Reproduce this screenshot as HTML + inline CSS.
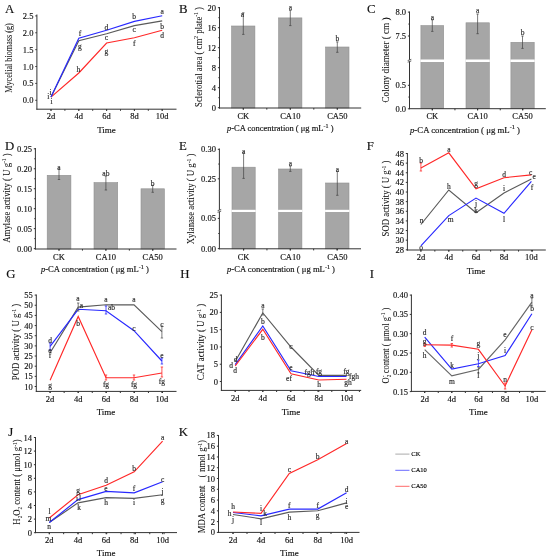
<!DOCTYPE html>
<html><head><meta charset="utf-8"><style>
html,body{margin:0;padding:0;background:#fff;}
svg{display:block;will-change:transform;}
</style></head><body>
<svg width="550" height="559" viewBox="0 0 550 559" font-family="Liberation Serif, serif">

<rect width="550" height="559" fill="#fff"/>
<text x="4.90" y="12.70" font-size="12.8" text-anchor="start" fill="#111" stroke="#111" stroke-width="0.15" >A</text>
<line x1="36.90" y1="14.50" x2="36.90" y2="109.70" stroke="#333" stroke-width="1"/>
<line x1="36.40" y1="109.20" x2="176.50" y2="109.20" stroke="#333" stroke-width="1"/>
<line x1="35.30" y1="15.90" x2="36.90" y2="15.90" stroke="#333" stroke-width="1"/>
<text x="33.40" y="18.90" font-size="8.5" text-anchor="end" fill="#111" stroke="#111" stroke-width="0.15" >2.5</text>
<line x1="35.30" y1="32.78" x2="36.90" y2="32.78" stroke="#333" stroke-width="1"/>
<text x="33.40" y="35.78" font-size="8.5" text-anchor="end" fill="#111" stroke="#111" stroke-width="0.15" >2.0</text>
<line x1="35.30" y1="49.66" x2="36.90" y2="49.66" stroke="#333" stroke-width="1"/>
<text x="33.40" y="52.66" font-size="8.5" text-anchor="end" fill="#111" stroke="#111" stroke-width="0.15" >1.5</text>
<line x1="35.30" y1="66.54" x2="36.90" y2="66.54" stroke="#333" stroke-width="1"/>
<text x="33.40" y="69.54" font-size="8.5" text-anchor="end" fill="#111" stroke="#111" stroke-width="0.15" >1.0</text>
<line x1="35.30" y1="83.42" x2="36.90" y2="83.42" stroke="#333" stroke-width="1"/>
<text x="33.40" y="86.42" font-size="8.5" text-anchor="end" fill="#111" stroke="#111" stroke-width="0.15" >0.5</text>
<line x1="35.30" y1="100.30" x2="36.90" y2="100.30" stroke="#333" stroke-width="1"/>
<text x="33.40" y="103.30" font-size="8.5" text-anchor="end" fill="#111" stroke="#111" stroke-width="0.15" >0.0</text>
<line x1="51.00" y1="109.20" x2="51.00" y2="110.80" stroke="#333" stroke-width="1"/>
<line x1="64.90" y1="109.20" x2="64.90" y2="110.80" stroke="#333" stroke-width="1"/>
<line x1="78.80" y1="109.20" x2="78.80" y2="110.80" stroke="#333" stroke-width="1"/>
<line x1="92.70" y1="109.20" x2="92.70" y2="110.80" stroke="#333" stroke-width="1"/>
<line x1="106.60" y1="109.20" x2="106.60" y2="110.80" stroke="#333" stroke-width="1"/>
<line x1="120.50" y1="109.20" x2="120.50" y2="110.80" stroke="#333" stroke-width="1"/>
<line x1="134.40" y1="109.20" x2="134.40" y2="110.80" stroke="#333" stroke-width="1"/>
<line x1="148.30" y1="109.20" x2="148.30" y2="110.80" stroke="#333" stroke-width="1"/>
<line x1="162.20" y1="109.20" x2="162.20" y2="110.80" stroke="#333" stroke-width="1"/>
<line x1="51.00" y1="109.20" x2="51.00" y2="110.80" stroke="#333" stroke-width="1"/>
<text x="51.00" y="119.20" font-size="8.5" text-anchor="middle" fill="#111" stroke="#111" stroke-width="0.15" >2d</text>
<line x1="78.80" y1="109.20" x2="78.80" y2="110.80" stroke="#333" stroke-width="1"/>
<text x="78.80" y="119.20" font-size="8.5" text-anchor="middle" fill="#111" stroke="#111" stroke-width="0.15" >4d</text>
<line x1="106.60" y1="109.20" x2="106.60" y2="110.80" stroke="#333" stroke-width="1"/>
<text x="106.60" y="119.20" font-size="8.5" text-anchor="middle" fill="#111" stroke="#111" stroke-width="0.15" >6d</text>
<line x1="134.40" y1="109.20" x2="134.40" y2="110.80" stroke="#333" stroke-width="1"/>
<text x="134.40" y="119.20" font-size="8.5" text-anchor="middle" fill="#111" stroke="#111" stroke-width="0.15" >8d</text>
<line x1="162.20" y1="109.20" x2="162.20" y2="110.80" stroke="#333" stroke-width="1"/>
<text x="162.20" y="119.20" font-size="8.5" text-anchor="middle" fill="#111" stroke="#111" stroke-width="0.15" >10d</text>
<text x="106.50" y="132.80" font-size="9" text-anchor="middle" fill="#111" stroke="#111" stroke-width="0.15" >Time</text>
<text transform="translate(8.70,58.00) rotate(-90)" x="0" y="3.14" font-size="9.5" text-anchor="middle" fill="#111" stroke="#111" stroke-width="0.05" textLength="69.5" lengthAdjust="spacingAndGlyphs">Mycelial biomass (g)</text>
<polyline points="51.00,97.10 78.80,73.00 106.60,43.00 134.40,37.70 162.20,30.20" fill="none" stroke="#ff2828" stroke-width="1.15" stroke-linejoin="miter"/>
<polyline points="51.00,97.10 78.80,40.80 106.60,33.70 134.40,25.60 162.20,20.90" fill="none" stroke="#5a5a5a" stroke-width="1.15" stroke-linejoin="miter"/>
<polyline points="51.00,97.10 78.80,38.20 106.60,30.20 134.40,21.40 162.20,15.80" fill="none" stroke="#2828ff" stroke-width="1.15" stroke-linejoin="miter"/>
<text x="79.90" y="36.40" font-size="7.5" text-anchor="middle" fill="#2a2a2a" stroke="#2a2a2a" stroke-width="0.15" >f</text>
<text x="79.90" y="48.70" font-size="7.5" text-anchor="middle" fill="#2a2a2a" stroke="#2a2a2a" stroke-width="0.15" >g</text>
<text x="78.40" y="72.30" font-size="7.5" text-anchor="middle" fill="#2a2a2a" stroke="#2a2a2a" stroke-width="0.15" >h</text>
<text x="106.30" y="30.00" font-size="7.5" text-anchor="middle" fill="#2a2a2a" stroke="#2a2a2a" stroke-width="0.15" >d</text>
<text x="106.30" y="39.70" font-size="7.5" text-anchor="middle" fill="#2a2a2a" stroke="#2a2a2a" stroke-width="0.15" >c</text>
<text x="106.30" y="54.10" font-size="7.5" text-anchor="middle" fill="#2a2a2a" stroke="#2a2a2a" stroke-width="0.15" >g</text>
<text x="134.20" y="19.20" font-size="7.5" text-anchor="middle" fill="#2a2a2a" stroke="#2a2a2a" stroke-width="0.15" >b</text>
<text x="134.20" y="32.30" font-size="7.5" text-anchor="middle" fill="#2a2a2a" stroke="#2a2a2a" stroke-width="0.15" >c</text>
<text x="134.20" y="45.50" font-size="7.5" text-anchor="middle" fill="#2a2a2a" stroke="#2a2a2a" stroke-width="0.15" >f</text>
<text x="162.10" y="14.10" font-size="7.5" text-anchor="middle" fill="#2a2a2a" stroke="#2a2a2a" stroke-width="0.15" >a</text>
<text x="162.10" y="28.50" font-size="7.5" text-anchor="middle" fill="#2a2a2a" stroke="#2a2a2a" stroke-width="0.15" >b</text>
<text x="162.10" y="37.80" font-size="7.5" text-anchor="middle" fill="#2a2a2a" stroke="#2a2a2a" stroke-width="0.15" >d</text>
<text x="48.30" y="99.20" font-size="7.5" text-anchor="middle" fill="#2a2a2a" stroke="#2a2a2a" stroke-width="0.15" >i</text>
<text x="50.50" y="95.30" font-size="7.5" text-anchor="middle" fill="#2a2a2a" stroke="#2a2a2a" stroke-width="0.15" >i</text>
<text x="51.60" y="103.50" font-size="7.5" text-anchor="middle" fill="#2a2a2a" stroke="#2a2a2a" stroke-width="0.15" >i</text>
<text x="178.90" y="12.70" font-size="12.8" text-anchor="start" fill="#111" stroke="#111" stroke-width="0.15" >B</text>
<rect x="231.60" y="26.00" width="23.30" height="82.00" fill="#a6a6a6" stroke="#909090" stroke-width="0.6"/>
<rect x="278.60" y="17.90" width="23.30" height="90.10" fill="#a6a6a6" stroke="#909090" stroke-width="0.6"/>
<rect x="325.60" y="47.00" width="23.40" height="61.00" fill="#a6a6a6" stroke="#909090" stroke-width="0.6"/>
<line x1="219.50" y1="7.00" x2="219.50" y2="108.50" stroke="#333" stroke-width="1"/>
<line x1="219.00" y1="108.00" x2="361.20" y2="108.00" stroke="#333" stroke-width="1"/>
<line x1="217.90" y1="7.70" x2="219.50" y2="7.70" stroke="#333" stroke-width="1"/>
<text x="216.00" y="10.70" font-size="8.5" text-anchor="end" fill="#111" stroke="#111" stroke-width="0.15" >20</text>
<line x1="217.90" y1="27.70" x2="219.50" y2="27.70" stroke="#333" stroke-width="1"/>
<text x="216.00" y="30.70" font-size="8.5" text-anchor="end" fill="#111" stroke="#111" stroke-width="0.15" >16</text>
<line x1="217.90" y1="47.70" x2="219.50" y2="47.70" stroke="#333" stroke-width="1"/>
<text x="216.00" y="50.70" font-size="8.5" text-anchor="end" fill="#111" stroke="#111" stroke-width="0.15" >12</text>
<line x1="217.90" y1="67.70" x2="219.50" y2="67.70" stroke="#333" stroke-width="1"/>
<text x="216.00" y="70.70" font-size="8.5" text-anchor="end" fill="#111" stroke="#111" stroke-width="0.15" >8</text>
<line x1="217.90" y1="87.70" x2="219.50" y2="87.70" stroke="#333" stroke-width="1"/>
<text x="216.00" y="90.70" font-size="8.5" text-anchor="end" fill="#111" stroke="#111" stroke-width="0.15" >4</text>
<line x1="217.90" y1="107.70" x2="219.50" y2="107.70" stroke="#333" stroke-width="1"/>
<text x="216.00" y="110.70" font-size="8.5" text-anchor="end" fill="#111" stroke="#111" stroke-width="0.15" >0</text>
<line x1="243.30" y1="108.00" x2="243.30" y2="109.60" stroke="#333" stroke-width="1"/>
<line x1="266.80" y1="108.00" x2="266.80" y2="109.60" stroke="#333" stroke-width="1"/>
<line x1="290.30" y1="108.00" x2="290.30" y2="109.60" stroke="#333" stroke-width="1"/>
<line x1="313.80" y1="108.00" x2="313.80" y2="109.60" stroke="#333" stroke-width="1"/>
<line x1="337.30" y1="108.00" x2="337.30" y2="109.60" stroke="#333" stroke-width="1"/>
<line x1="243.30" y1="108.00" x2="243.30" y2="109.60" stroke="#333" stroke-width="1"/>
<text x="243.30" y="118.50" font-size="8.5" text-anchor="middle" fill="#111" stroke="#111" stroke-width="0.15" >CK</text>
<line x1="290.30" y1="108.00" x2="290.30" y2="109.60" stroke="#333" stroke-width="1"/>
<text x="290.30" y="118.50" font-size="8.5" text-anchor="middle" fill="#111" stroke="#111" stroke-width="0.15" >CA10</text>
<line x1="337.30" y1="108.00" x2="337.30" y2="109.60" stroke="#333" stroke-width="1"/>
<text x="337.30" y="118.50" font-size="8.5" text-anchor="middle" fill="#111" stroke="#111" stroke-width="0.15" >CA50</text>
<line x1="218.30" y1="17.70" x2="219.50" y2="17.70" stroke="#333" stroke-width="0.9"/>
<line x1="218.30" y1="37.70" x2="219.50" y2="37.70" stroke="#333" stroke-width="0.9"/>
<line x1="218.30" y1="57.70" x2="219.50" y2="57.70" stroke="#333" stroke-width="0.9"/>
<line x1="218.30" y1="77.70" x2="219.50" y2="77.70" stroke="#333" stroke-width="0.9"/>
<line x1="218.30" y1="97.70" x2="219.50" y2="97.70" stroke="#333" stroke-width="0.9"/>
<line x1="243.30" y1="12.80" x2="243.30" y2="34.40" stroke="#444" stroke-width="0.7"/>
<line x1="242.10" y1="12.80" x2="244.50" y2="12.80" stroke="#444" stroke-width="0.7"/>
<line x1="242.10" y1="34.40" x2="244.50" y2="34.40" stroke="#444" stroke-width="0.7"/>
<line x1="290.30" y1="10.50" x2="290.30" y2="25.60" stroke="#444" stroke-width="0.7"/>
<line x1="289.10" y1="10.50" x2="291.50" y2="10.50" stroke="#444" stroke-width="0.7"/>
<line x1="289.10" y1="25.60" x2="291.50" y2="25.60" stroke="#444" stroke-width="0.7"/>
<line x1="337.30" y1="41.90" x2="337.30" y2="52.30" stroke="#444" stroke-width="0.7"/>
<line x1="336.10" y1="41.90" x2="338.50" y2="41.90" stroke="#444" stroke-width="0.7"/>
<line x1="336.10" y1="52.30" x2="338.50" y2="52.30" stroke="#444" stroke-width="0.7"/>
<text x="242.30" y="16.90" font-size="7.5" text-anchor="middle" fill="#2a2a2a" stroke="#2a2a2a" stroke-width="0.15" >a</text>
<text x="290.30" y="9.90" font-size="7.5" text-anchor="middle" fill="#2a2a2a" stroke="#2a2a2a" stroke-width="0.15" >a</text>
<text x="337.30" y="40.90" font-size="7.5" text-anchor="middle" fill="#2a2a2a" stroke="#2a2a2a" stroke-width="0.15" >b</text>
<text x="227.00" y="131.20" font-size="8.5" text-anchor="start" fill="#111" stroke="#111" stroke-width="0.15" textLength="106.5" lengthAdjust="spacingAndGlyphs" ><tspan font-style="italic">p</tspan>-CA concentration ( μg mL<tspan dy="-3.5" font-size="6">-1</tspan><tspan dy="3.5"> )</tspan></text>
<text transform="translate(198.50,57.00) rotate(-90)" x="0" y="3.14" font-size="9.5" text-anchor="middle" fill="#111" stroke="#111" stroke-width="0.05" textLength="100" lengthAdjust="spacingAndGlyphs">Sclerotial area ( cm<tspan dy="-3.5" font-size="6">2</tspan><tspan dy="3.5"> plate</tspan><tspan dy="-3.5" font-size="6">-1</tspan><tspan dy="3.5"> )</tspan></text>
<text x="367.10" y="12.70" font-size="12.8" text-anchor="start" fill="#111" stroke="#111" stroke-width="0.15" >C</text>
<rect x="420.90" y="25.60" width="22.80" height="83.10" fill="#a6a6a6" stroke="#909090" stroke-width="0.6"/>
<rect x="420.40" y="59.50" width="23.80" height="2.50" fill="#fff"/>
<rect x="466.00" y="22.80" width="23.30" height="85.90" fill="#a6a6a6" stroke="#909090" stroke-width="0.6"/>
<rect x="465.50" y="59.50" width="24.30" height="2.50" fill="#fff"/>
<rect x="510.90" y="42.30" width="23.30" height="66.40" fill="#a6a6a6" stroke="#909090" stroke-width="0.6"/>
<rect x="510.40" y="59.50" width="24.30" height="2.50" fill="#fff"/>
<line x1="409.50" y1="11.50" x2="409.50" y2="109.20" stroke="#333" stroke-width="1"/>
<line x1="409.00" y1="108.70" x2="545.80" y2="108.70" stroke="#333" stroke-width="1"/>
<line x1="407.90" y1="12.10" x2="409.50" y2="12.10" stroke="#333" stroke-width="1"/>
<text x="406.00" y="15.10" font-size="8.5" text-anchor="end" fill="#111" stroke="#111" stroke-width="0.15" >8.0</text>
<line x1="407.90" y1="36.00" x2="409.50" y2="36.00" stroke="#333" stroke-width="1"/>
<text x="406.00" y="39.00" font-size="8.5" text-anchor="end" fill="#111" stroke="#111" stroke-width="0.15" >7.5</text>
<line x1="407.90" y1="85.30" x2="409.50" y2="85.30" stroke="#333" stroke-width="1"/>
<text x="406.00" y="88.30" font-size="8.5" text-anchor="end" fill="#111" stroke="#111" stroke-width="0.15" >0.5</text>
<line x1="407.90" y1="108.80" x2="409.50" y2="108.80" stroke="#333" stroke-width="1"/>
<text x="406.00" y="111.80" font-size="8.5" text-anchor="end" fill="#111" stroke="#111" stroke-width="0.15" >0.0</text>
<line x1="432.30" y1="108.70" x2="432.30" y2="110.30" stroke="#333" stroke-width="1"/>
<line x1="454.95" y1="108.70" x2="454.95" y2="110.30" stroke="#333" stroke-width="1"/>
<line x1="477.60" y1="108.70" x2="477.60" y2="110.30" stroke="#333" stroke-width="1"/>
<line x1="500.25" y1="108.70" x2="500.25" y2="110.30" stroke="#333" stroke-width="1"/>
<line x1="522.90" y1="108.70" x2="522.90" y2="110.30" stroke="#333" stroke-width="1"/>
<line x1="432.30" y1="108.70" x2="432.30" y2="110.30" stroke="#333" stroke-width="1"/>
<text x="432.30" y="119.00" font-size="8.5" text-anchor="middle" fill="#111" stroke="#111" stroke-width="0.15" >CK</text>
<line x1="477.60" y1="108.70" x2="477.60" y2="110.30" stroke="#333" stroke-width="1"/>
<text x="477.60" y="119.00" font-size="8.5" text-anchor="middle" fill="#111" stroke="#111" stroke-width="0.15" >CA10</text>
<line x1="522.50" y1="108.70" x2="522.50" y2="110.30" stroke="#333" stroke-width="1"/>
<text x="522.50" y="119.00" font-size="8.5" text-anchor="middle" fill="#111" stroke="#111" stroke-width="0.15" >CA50</text>
<line x1="408.30" y1="24.05" x2="409.50" y2="24.05" stroke="#333" stroke-width="0.9"/>
<line x1="408.30" y1="97.05" x2="409.50" y2="97.05" stroke="#333" stroke-width="0.9"/>
<line x1="432.30" y1="19.80" x2="432.30" y2="31.40" stroke="#444" stroke-width="0.7"/>
<line x1="431.10" y1="19.80" x2="433.50" y2="19.80" stroke="#444" stroke-width="0.7"/>
<line x1="431.10" y1="31.40" x2="433.50" y2="31.40" stroke="#444" stroke-width="0.7"/>
<line x1="477.60" y1="14.00" x2="477.60" y2="33.70" stroke="#444" stroke-width="0.7"/>
<line x1="476.40" y1="14.00" x2="478.80" y2="14.00" stroke="#444" stroke-width="0.7"/>
<line x1="476.40" y1="33.70" x2="478.80" y2="33.70" stroke="#444" stroke-width="0.7"/>
<line x1="522.50" y1="36.00" x2="522.50" y2="48.40" stroke="#444" stroke-width="0.7"/>
<line x1="521.30" y1="36.00" x2="523.70" y2="36.00" stroke="#444" stroke-width="0.7"/>
<line x1="521.30" y1="48.40" x2="523.70" y2="48.40" stroke="#444" stroke-width="0.7"/>
<text x="432.30" y="19.90" font-size="7.5" text-anchor="middle" fill="#2a2a2a" stroke="#2a2a2a" stroke-width="0.15" >a</text>
<text x="477.60" y="13.00" font-size="7.5" text-anchor="middle" fill="#2a2a2a" stroke="#2a2a2a" stroke-width="0.15" >a</text>
<text x="522.50" y="35.10" font-size="7.5" text-anchor="middle" fill="#2a2a2a" stroke="#2a2a2a" stroke-width="0.15" >b</text>
<rect x="407.50" y="59.75" width="4" height="2" fill="#fff"/>
<line x1="407.70" y1="60.55" x2="411.30" y2="59.35" stroke="#333" stroke-width="0.8"/>
<line x1="407.70" y1="62.15" x2="411.30" y2="60.95" stroke="#333" stroke-width="0.8"/>
<text x="410.00" y="132.50" font-size="8.5" text-anchor="start" fill="#111" stroke="#111" stroke-width="0.15" textLength="110" lengthAdjust="spacingAndGlyphs" ><tspan font-style="italic">p</tspan>-CA concentration ( μg mL<tspan dy="-3.5" font-size="6">-1</tspan><tspan dy="3.5"> )</tspan></text>
<text transform="translate(385.50,60.00) rotate(-90)" x="0" y="3.14" font-size="9.5" text-anchor="middle" fill="#111" stroke="#111" stroke-width="0.05" textLength="85" lengthAdjust="spacingAndGlyphs">Colony diameter ( cm   )</text>
<text x="5.10" y="149.80" font-size="12.8" text-anchor="start" fill="#111" stroke="#111" stroke-width="0.15" >D</text>
<rect x="47.20" y="175.30" width="23.70" height="73.70" fill="#a6a6a6" stroke="#909090" stroke-width="0.6"/>
<rect x="94.00" y="182.60" width="23.70" height="66.40" fill="#a6a6a6" stroke="#909090" stroke-width="0.6"/>
<rect x="141.00" y="188.80" width="23.40" height="60.20" fill="#a6a6a6" stroke="#909090" stroke-width="0.6"/>
<line x1="35.40" y1="148.00" x2="35.40" y2="249.50" stroke="#333" stroke-width="1"/>
<line x1="34.90" y1="249.00" x2="176.50" y2="249.00" stroke="#333" stroke-width="1"/>
<line x1="33.80" y1="148.80" x2="35.40" y2="148.80" stroke="#333" stroke-width="1"/>
<text x="31.90" y="151.80" font-size="8.5" text-anchor="end" fill="#111" stroke="#111" stroke-width="0.15" >0.25</text>
<line x1="33.80" y1="168.76" x2="35.40" y2="168.76" stroke="#333" stroke-width="1"/>
<text x="31.90" y="171.76" font-size="8.5" text-anchor="end" fill="#111" stroke="#111" stroke-width="0.15" >0.20</text>
<line x1="33.80" y1="188.72" x2="35.40" y2="188.72" stroke="#333" stroke-width="1"/>
<text x="31.90" y="191.72" font-size="8.5" text-anchor="end" fill="#111" stroke="#111" stroke-width="0.15" >0.15</text>
<line x1="33.80" y1="208.68" x2="35.40" y2="208.68" stroke="#333" stroke-width="1"/>
<text x="31.90" y="211.68" font-size="8.5" text-anchor="end" fill="#111" stroke="#111" stroke-width="0.15" >0.10</text>
<line x1="33.80" y1="228.64" x2="35.40" y2="228.64" stroke="#333" stroke-width="1"/>
<text x="31.90" y="231.64" font-size="8.5" text-anchor="end" fill="#111" stroke="#111" stroke-width="0.15" >0.05</text>
<line x1="33.80" y1="248.60" x2="35.40" y2="248.60" stroke="#333" stroke-width="1"/>
<text x="31.90" y="251.60" font-size="8.5" text-anchor="end" fill="#111" stroke="#111" stroke-width="0.15" >0.00</text>
<line x1="59.00" y1="249.00" x2="59.00" y2="250.60" stroke="#333" stroke-width="1"/>
<line x1="82.45" y1="249.00" x2="82.45" y2="250.60" stroke="#333" stroke-width="1"/>
<line x1="105.90" y1="249.00" x2="105.90" y2="250.60" stroke="#333" stroke-width="1"/>
<line x1="129.35" y1="249.00" x2="129.35" y2="250.60" stroke="#333" stroke-width="1"/>
<line x1="152.80" y1="249.00" x2="152.80" y2="250.60" stroke="#333" stroke-width="1"/>
<line x1="59.00" y1="249.00" x2="59.00" y2="250.60" stroke="#333" stroke-width="1"/>
<text x="59.00" y="259.50" font-size="8.5" text-anchor="middle" fill="#111" stroke="#111" stroke-width="0.15" >CK</text>
<line x1="105.90" y1="249.00" x2="105.90" y2="250.60" stroke="#333" stroke-width="1"/>
<text x="105.90" y="259.50" font-size="8.5" text-anchor="middle" fill="#111" stroke="#111" stroke-width="0.15" >CA10</text>
<line x1="152.70" y1="249.00" x2="152.70" y2="250.60" stroke="#333" stroke-width="1"/>
<text x="152.70" y="259.50" font-size="8.5" text-anchor="middle" fill="#111" stroke="#111" stroke-width="0.15" >CA50</text>
<line x1="34.20" y1="158.78" x2="35.40" y2="158.78" stroke="#333" stroke-width="0.9"/>
<line x1="34.20" y1="178.74" x2="35.40" y2="178.74" stroke="#333" stroke-width="0.9"/>
<line x1="34.20" y1="198.70" x2="35.40" y2="198.70" stroke="#333" stroke-width="0.9"/>
<line x1="34.20" y1="218.66" x2="35.40" y2="218.66" stroke="#333" stroke-width="0.9"/>
<line x1="34.20" y1="238.62" x2="35.40" y2="238.62" stroke="#333" stroke-width="0.9"/>
<line x1="59.00" y1="169.00" x2="59.00" y2="179.50" stroke="#444" stroke-width="0.7"/>
<line x1="57.80" y1="169.00" x2="60.20" y2="169.00" stroke="#444" stroke-width="0.7"/>
<line x1="57.80" y1="179.50" x2="60.20" y2="179.50" stroke="#444" stroke-width="0.7"/>
<line x1="105.90" y1="176.00" x2="105.90" y2="190.00" stroke="#444" stroke-width="0.7"/>
<line x1="104.70" y1="176.00" x2="107.10" y2="176.00" stroke="#444" stroke-width="0.7"/>
<line x1="104.70" y1="190.00" x2="107.10" y2="190.00" stroke="#444" stroke-width="0.7"/>
<line x1="152.70" y1="185.30" x2="152.70" y2="192.30" stroke="#444" stroke-width="0.7"/>
<line x1="151.50" y1="185.30" x2="153.90" y2="185.30" stroke="#444" stroke-width="0.7"/>
<line x1="151.50" y1="192.30" x2="153.90" y2="192.30" stroke="#444" stroke-width="0.7"/>
<text x="58.80" y="170.40" font-size="7.5" text-anchor="middle" fill="#2a2a2a" stroke="#2a2a2a" stroke-width="0.15" >a</text>
<text x="105.90" y="175.80" font-size="7.5" text-anchor="middle" fill="#2a2a2a" stroke="#2a2a2a" stroke-width="0.15" >ab</text>
<text x="152.70" y="185.50" font-size="7.5" text-anchor="middle" fill="#2a2a2a" stroke="#2a2a2a" stroke-width="0.15" >b</text>
<text x="40.90" y="272.00" font-size="8.5" text-anchor="start" fill="#111" stroke="#111" stroke-width="0.15" textLength="108" lengthAdjust="spacingAndGlyphs" ><tspan font-style="italic">p</tspan>-CA concentration ( μg mL<tspan dy="-3.5" font-size="6">-1</tspan><tspan dy="3.5"> )</tspan></text>
<text transform="translate(6.60,198.00) rotate(-90)" x="0" y="3.14" font-size="9.5" text-anchor="middle" fill="#111" stroke="#111" stroke-width="0.05" textLength="89.5" lengthAdjust="spacingAndGlyphs">Amylase activity ( U g<tspan dy="-3.5" font-size="6">-1</tspan><tspan dy="3.5"> )</tspan></text>
<text x="178.90" y="149.80" font-size="12.8" text-anchor="start" fill="#111" stroke="#111" stroke-width="0.15" >E</text>
<rect x="232.00" y="167.20" width="23.20" height="81.60" fill="#a6a6a6" stroke="#909090" stroke-width="0.6"/>
<rect x="231.50" y="209.80" width="24.20" height="2.20" fill="#fff"/>
<rect x="278.60" y="169.00" width="23.30" height="79.80" fill="#a6a6a6" stroke="#909090" stroke-width="0.6"/>
<rect x="278.10" y="209.80" width="24.30" height="2.20" fill="#fff"/>
<rect x="325.60" y="183.00" width="23.40" height="65.80" fill="#a6a6a6" stroke="#909090" stroke-width="0.6"/>
<rect x="325.10" y="209.80" width="24.40" height="2.20" fill="#fff"/>
<line x1="219.40" y1="148.50" x2="219.40" y2="249.30" stroke="#333" stroke-width="1"/>
<line x1="218.90" y1="248.80" x2="361.00" y2="248.80" stroke="#333" stroke-width="1"/>
<line x1="217.80" y1="149.30" x2="219.40" y2="149.30" stroke="#333" stroke-width="1"/>
<text x="215.90" y="152.30" font-size="8.5" text-anchor="end" fill="#111" stroke="#111" stroke-width="0.15" >0.30</text>
<line x1="217.80" y1="178.80" x2="219.40" y2="178.80" stroke="#333" stroke-width="1"/>
<text x="215.90" y="181.80" font-size="8.5" text-anchor="end" fill="#111" stroke="#111" stroke-width="0.15" >0.25</text>
<line x1="217.80" y1="218.40" x2="219.40" y2="218.40" stroke="#333" stroke-width="1"/>
<text x="215.90" y="221.40" font-size="8.5" text-anchor="end" fill="#111" stroke="#111" stroke-width="0.15" >0.05</text>
<line x1="217.80" y1="248.60" x2="219.40" y2="248.60" stroke="#333" stroke-width="1"/>
<text x="215.90" y="251.60" font-size="8.5" text-anchor="end" fill="#111" stroke="#111" stroke-width="0.15" >0.00</text>
<line x1="243.60" y1="248.80" x2="243.60" y2="250.40" stroke="#333" stroke-width="1"/>
<line x1="266.95" y1="248.80" x2="266.95" y2="250.40" stroke="#333" stroke-width="1"/>
<line x1="290.30" y1="248.80" x2="290.30" y2="250.40" stroke="#333" stroke-width="1"/>
<line x1="313.65" y1="248.80" x2="313.65" y2="250.40" stroke="#333" stroke-width="1"/>
<line x1="337.00" y1="248.80" x2="337.00" y2="250.40" stroke="#333" stroke-width="1"/>
<line x1="243.60" y1="248.80" x2="243.60" y2="250.40" stroke="#333" stroke-width="1"/>
<text x="243.60" y="259.50" font-size="8.5" text-anchor="middle" fill="#111" stroke="#111" stroke-width="0.15" >CK</text>
<line x1="290.30" y1="248.80" x2="290.30" y2="250.40" stroke="#333" stroke-width="1"/>
<text x="290.30" y="259.50" font-size="8.5" text-anchor="middle" fill="#111" stroke="#111" stroke-width="0.15" >CA10</text>
<line x1="337.30" y1="248.80" x2="337.30" y2="250.40" stroke="#333" stroke-width="1"/>
<text x="337.30" y="259.50" font-size="8.5" text-anchor="middle" fill="#111" stroke="#111" stroke-width="0.15" >CA50</text>
<line x1="218.20" y1="164.05" x2="219.40" y2="164.05" stroke="#333" stroke-width="0.9"/>
<line x1="218.20" y1="233.50" x2="219.40" y2="233.50" stroke="#333" stroke-width="0.9"/>
<line x1="243.60" y1="152.80" x2="243.60" y2="178.40" stroke="#444" stroke-width="0.7"/>
<line x1="242.40" y1="152.80" x2="244.80" y2="152.80" stroke="#444" stroke-width="0.7"/>
<line x1="242.40" y1="178.40" x2="244.80" y2="178.40" stroke="#444" stroke-width="0.7"/>
<line x1="290.30" y1="166.00" x2="290.30" y2="171.40" stroke="#444" stroke-width="0.7"/>
<line x1="289.10" y1="166.00" x2="291.50" y2="166.00" stroke="#444" stroke-width="0.7"/>
<line x1="289.10" y1="171.40" x2="291.50" y2="171.40" stroke="#444" stroke-width="0.7"/>
<line x1="337.30" y1="171.40" x2="337.30" y2="195.30" stroke="#444" stroke-width="0.7"/>
<line x1="336.10" y1="171.40" x2="338.50" y2="171.40" stroke="#444" stroke-width="0.7"/>
<line x1="336.10" y1="195.30" x2="338.50" y2="195.30" stroke="#444" stroke-width="0.7"/>
<text x="243.60" y="154.10" font-size="7.5" text-anchor="middle" fill="#2a2a2a" stroke="#2a2a2a" stroke-width="0.15" >a</text>
<text x="290.30" y="165.80" font-size="7.5" text-anchor="middle" fill="#2a2a2a" stroke="#2a2a2a" stroke-width="0.15" >a</text>
<text x="337.30" y="171.50" font-size="7.5" text-anchor="middle" fill="#2a2a2a" stroke="#2a2a2a" stroke-width="0.15" >a</text>
<rect x="217.40" y="209.90" width="4" height="2" fill="#fff"/>
<line x1="217.60" y1="210.70" x2="221.20" y2="209.50" stroke="#333" stroke-width="0.8"/>
<line x1="217.60" y1="212.30" x2="221.20" y2="211.10" stroke="#333" stroke-width="0.8"/>
<text x="227.00" y="272.00" font-size="8.5" text-anchor="start" fill="#111" stroke="#111" stroke-width="0.15" textLength="108" lengthAdjust="spacingAndGlyphs" ><tspan font-style="italic">p</tspan>-CA concentration ( μg mL<tspan dy="-3.5" font-size="6">-1</tspan><tspan dy="3.5"> )</tspan></text>
<text transform="translate(191.00,199.00) rotate(-90)" x="0" y="3.14" font-size="9.5" text-anchor="middle" fill="#111" stroke="#111" stroke-width="0.05" textLength="90.7" lengthAdjust="spacingAndGlyphs">Xylanase activity ( U g<tspan dy="-3.5" font-size="6">-1</tspan><tspan dy="3.5"> )</tspan></text>
<text x="366.70" y="149.80" font-size="12.8" text-anchor="start" fill="#111" stroke="#111" stroke-width="0.15" >F</text>
<line x1="407.40" y1="153.00" x2="407.40" y2="250.50" stroke="#333" stroke-width="1"/>
<line x1="406.90" y1="250.00" x2="545.80" y2="250.00" stroke="#333" stroke-width="1"/>
<line x1="405.80" y1="153.50" x2="407.40" y2="153.50" stroke="#333" stroke-width="1"/>
<text x="403.90" y="156.50" font-size="8.5" text-anchor="end" fill="#111" stroke="#111" stroke-width="0.15" >48</text>
<line x1="405.80" y1="163.13" x2="407.40" y2="163.13" stroke="#333" stroke-width="1"/>
<text x="403.90" y="166.13" font-size="8.5" text-anchor="end" fill="#111" stroke="#111" stroke-width="0.15" >46</text>
<line x1="405.80" y1="172.76" x2="407.40" y2="172.76" stroke="#333" stroke-width="1"/>
<text x="403.90" y="175.76" font-size="8.5" text-anchor="end" fill="#111" stroke="#111" stroke-width="0.15" >44</text>
<line x1="405.80" y1="182.39" x2="407.40" y2="182.39" stroke="#333" stroke-width="1"/>
<text x="403.90" y="185.39" font-size="8.5" text-anchor="end" fill="#111" stroke="#111" stroke-width="0.15" >42</text>
<line x1="405.80" y1="192.02" x2="407.40" y2="192.02" stroke="#333" stroke-width="1"/>
<text x="403.90" y="195.02" font-size="8.5" text-anchor="end" fill="#111" stroke="#111" stroke-width="0.15" >40</text>
<line x1="405.80" y1="201.65" x2="407.40" y2="201.65" stroke="#333" stroke-width="1"/>
<text x="403.90" y="204.65" font-size="8.5" text-anchor="end" fill="#111" stroke="#111" stroke-width="0.15" >38</text>
<line x1="405.80" y1="211.28" x2="407.40" y2="211.28" stroke="#333" stroke-width="1"/>
<text x="403.90" y="214.28" font-size="8.5" text-anchor="end" fill="#111" stroke="#111" stroke-width="0.15" >36</text>
<line x1="405.80" y1="220.91" x2="407.40" y2="220.91" stroke="#333" stroke-width="1"/>
<text x="403.90" y="223.91" font-size="8.5" text-anchor="end" fill="#111" stroke="#111" stroke-width="0.15" >34</text>
<line x1="405.80" y1="230.54" x2="407.40" y2="230.54" stroke="#333" stroke-width="1"/>
<text x="403.90" y="233.54" font-size="8.5" text-anchor="end" fill="#111" stroke="#111" stroke-width="0.15" >32</text>
<line x1="405.80" y1="240.17" x2="407.40" y2="240.17" stroke="#333" stroke-width="1"/>
<text x="403.90" y="243.17" font-size="8.5" text-anchor="end" fill="#111" stroke="#111" stroke-width="0.15" >30</text>
<line x1="405.80" y1="249.80" x2="407.40" y2="249.80" stroke="#333" stroke-width="1"/>
<text x="403.90" y="252.80" font-size="8.5" text-anchor="end" fill="#111" stroke="#111" stroke-width="0.15" >28</text>
<line x1="420.90" y1="250.00" x2="420.90" y2="251.60" stroke="#333" stroke-width="1"/>
<line x1="434.85" y1="250.00" x2="434.85" y2="251.60" stroke="#333" stroke-width="1"/>
<line x1="448.80" y1="250.00" x2="448.80" y2="251.60" stroke="#333" stroke-width="1"/>
<line x1="462.75" y1="250.00" x2="462.75" y2="251.60" stroke="#333" stroke-width="1"/>
<line x1="476.70" y1="250.00" x2="476.70" y2="251.60" stroke="#333" stroke-width="1"/>
<line x1="490.65" y1="250.00" x2="490.65" y2="251.60" stroke="#333" stroke-width="1"/>
<line x1="504.60" y1="250.00" x2="504.60" y2="251.60" stroke="#333" stroke-width="1"/>
<line x1="518.55" y1="250.00" x2="518.55" y2="251.60" stroke="#333" stroke-width="1"/>
<line x1="532.50" y1="250.00" x2="532.50" y2="251.60" stroke="#333" stroke-width="1"/>
<line x1="420.90" y1="250.00" x2="420.90" y2="251.60" stroke="#333" stroke-width="1"/>
<text x="420.90" y="259.90" font-size="8.5" text-anchor="middle" fill="#111" stroke="#111" stroke-width="0.15" >2d</text>
<line x1="448.80" y1="250.00" x2="448.80" y2="251.60" stroke="#333" stroke-width="1"/>
<text x="448.80" y="259.90" font-size="8.5" text-anchor="middle" fill="#111" stroke="#111" stroke-width="0.15" >4d</text>
<line x1="476.00" y1="250.00" x2="476.00" y2="251.60" stroke="#333" stroke-width="1"/>
<text x="476.00" y="259.90" font-size="8.5" text-anchor="middle" fill="#111" stroke="#111" stroke-width="0.15" >6d</text>
<line x1="504.00" y1="250.00" x2="504.00" y2="251.60" stroke="#333" stroke-width="1"/>
<text x="504.00" y="259.90" font-size="8.5" text-anchor="middle" fill="#111" stroke="#111" stroke-width="0.15" >8d</text>
<line x1="531.40" y1="250.00" x2="531.40" y2="251.60" stroke="#333" stroke-width="1"/>
<text x="531.40" y="259.90" font-size="8.5" text-anchor="middle" fill="#111" stroke="#111" stroke-width="0.15" >10d</text>
<text x="476.00" y="273.50" font-size="9" text-anchor="middle" fill="#111" stroke="#111" stroke-width="0.15" >Time</text>
<polyline points="420.90,224.50 448.80,190.00 476.00,212.80 504.00,193.00 531.40,179.00" fill="none" stroke="#5a5a5a" stroke-width="1.15" stroke-linejoin="miter"/>
<polyline points="420.90,245.80 448.80,215.60 476.00,198.10 504.00,213.30 531.40,181.40" fill="none" stroke="#2828ff" stroke-width="1.15" stroke-linejoin="miter"/>
<polyline points="420.90,167.90 448.80,152.80 476.00,188.80 504.00,177.70 531.40,174.90" fill="none" stroke="#ff2828" stroke-width="1.15" stroke-linejoin="miter"/>
<line x1="420.90" y1="163.00" x2="420.90" y2="171.00" stroke="#ff2828" stroke-width="0.8"/>
<line x1="419.70" y1="163.00" x2="422.10" y2="163.00" stroke="#ff2828" stroke-width="0.8"/>
<line x1="419.70" y1="171.00" x2="422.10" y2="171.00" stroke="#ff2828" stroke-width="0.8"/>
<text x="421.00" y="163.40" font-size="7.5" text-anchor="middle" fill="#2a2a2a" stroke="#2a2a2a" stroke-width="0.15" >b</text>
<text x="448.80" y="152.30" font-size="7.5" text-anchor="middle" fill="#2a2a2a" stroke="#2a2a2a" stroke-width="0.15" >a</text>
<text x="476.00" y="186.20" font-size="7.5" text-anchor="middle" fill="#2a2a2a" stroke="#2a2a2a" stroke-width="0.15" >g</text>
<text x="504.00" y="177.40" font-size="7.5" text-anchor="middle" fill="#2a2a2a" stroke="#2a2a2a" stroke-width="0.15" >d</text>
<text x="530.70" y="174.50" font-size="7.5" text-anchor="middle" fill="#2a2a2a" stroke="#2a2a2a" stroke-width="0.15" >c</text>
<text x="534.20" y="178.50" font-size="7.5" text-anchor="middle" fill="#2a2a2a" stroke="#2a2a2a" stroke-width="0.15" >e</text>
<text x="448.80" y="188.80" font-size="7.5" text-anchor="middle" fill="#2a2a2a" stroke="#2a2a2a" stroke-width="0.15" >h</text>
<text x="504.00" y="191.30" font-size="7.5" text-anchor="middle" fill="#2a2a2a" stroke="#2a2a2a" stroke-width="0.15" >i</text>
<text x="476.00" y="205.50" font-size="7.5" text-anchor="middle" fill="#2a2a2a" stroke="#2a2a2a" stroke-width="0.15" >j</text>
<text x="476.00" y="212.50" font-size="7.5" text-anchor="middle" fill="#2a2a2a" stroke="#2a2a2a" stroke-width="0.15" >k</text>
<text x="504.00" y="221.50" font-size="7.5" text-anchor="middle" fill="#2a2a2a" stroke="#2a2a2a" stroke-width="0.15" >l</text>
<text x="532.00" y="190.20" font-size="7.5" text-anchor="middle" fill="#2a2a2a" stroke="#2a2a2a" stroke-width="0.15" >f</text>
<text x="421.60" y="222.70" font-size="7.5" text-anchor="middle" fill="#2a2a2a" stroke="#2a2a2a" stroke-width="0.15" >n</text>
<text x="450.70" y="221.50" font-size="7.5" text-anchor="middle" fill="#2a2a2a" stroke="#2a2a2a" stroke-width="0.15" >m</text>
<text x="421.00" y="249.90" font-size="7.5" text-anchor="middle" fill="#2a2a2a" stroke="#2a2a2a" stroke-width="0.15" >o</text>
<text transform="translate(386.00,198.50) rotate(-90)" x="0" y="3.14" font-size="9.5" text-anchor="middle" fill="#111" stroke="#111" stroke-width="0.05" textLength="76" lengthAdjust="spacingAndGlyphs">SOD activity ( U g<tspan dy="-3.5" font-size="6">-1</tspan><tspan dy="3.5"> )</tspan></text>
<text x="6.20" y="277.80" font-size="12.8" text-anchor="start" fill="#111" stroke="#111" stroke-width="0.15" >G</text>
<line x1="36.30" y1="294.50" x2="36.30" y2="391.90" stroke="#333" stroke-width="1"/>
<line x1="35.80" y1="391.40" x2="176.50" y2="391.40" stroke="#333" stroke-width="1"/>
<line x1="34.70" y1="295.10" x2="36.30" y2="295.10" stroke="#333" stroke-width="1"/>
<text x="32.80" y="298.10" font-size="8.5" text-anchor="end" fill="#111" stroke="#111" stroke-width="0.15" >55</text>
<line x1="34.70" y1="305.26" x2="36.30" y2="305.26" stroke="#333" stroke-width="1"/>
<text x="32.80" y="308.26" font-size="8.5" text-anchor="end" fill="#111" stroke="#111" stroke-width="0.15" >50</text>
<line x1="34.70" y1="315.41" x2="36.30" y2="315.41" stroke="#333" stroke-width="1"/>
<text x="32.80" y="318.41" font-size="8.5" text-anchor="end" fill="#111" stroke="#111" stroke-width="0.15" >45</text>
<line x1="34.70" y1="325.57" x2="36.30" y2="325.57" stroke="#333" stroke-width="1"/>
<text x="32.80" y="328.57" font-size="8.5" text-anchor="end" fill="#111" stroke="#111" stroke-width="0.15" >40</text>
<line x1="34.70" y1="335.72" x2="36.30" y2="335.72" stroke="#333" stroke-width="1"/>
<text x="32.80" y="338.72" font-size="8.5" text-anchor="end" fill="#111" stroke="#111" stroke-width="0.15" >35</text>
<line x1="34.70" y1="345.88" x2="36.30" y2="345.88" stroke="#333" stroke-width="1"/>
<text x="32.80" y="348.88" font-size="8.5" text-anchor="end" fill="#111" stroke="#111" stroke-width="0.15" >30</text>
<line x1="34.70" y1="356.03" x2="36.30" y2="356.03" stroke="#333" stroke-width="1"/>
<text x="32.80" y="359.03" font-size="8.5" text-anchor="end" fill="#111" stroke="#111" stroke-width="0.15" >25</text>
<line x1="34.70" y1="366.19" x2="36.30" y2="366.19" stroke="#333" stroke-width="1"/>
<text x="32.80" y="369.19" font-size="8.5" text-anchor="end" fill="#111" stroke="#111" stroke-width="0.15" >20</text>
<line x1="34.70" y1="376.34" x2="36.30" y2="376.34" stroke="#333" stroke-width="1"/>
<text x="32.80" y="379.34" font-size="8.5" text-anchor="end" fill="#111" stroke="#111" stroke-width="0.15" >15</text>
<line x1="34.70" y1="386.50" x2="36.30" y2="386.50" stroke="#333" stroke-width="1"/>
<text x="32.80" y="389.50" font-size="8.5" text-anchor="end" fill="#111" stroke="#111" stroke-width="0.15" >10</text>
<line x1="50.10" y1="391.40" x2="50.10" y2="393.00" stroke="#333" stroke-width="1"/>
<line x1="64.15" y1="391.40" x2="64.15" y2="393.00" stroke="#333" stroke-width="1"/>
<line x1="78.20" y1="391.40" x2="78.20" y2="393.00" stroke="#333" stroke-width="1"/>
<line x1="92.25" y1="391.40" x2="92.25" y2="393.00" stroke="#333" stroke-width="1"/>
<line x1="106.30" y1="391.40" x2="106.30" y2="393.00" stroke="#333" stroke-width="1"/>
<line x1="120.35" y1="391.40" x2="120.35" y2="393.00" stroke="#333" stroke-width="1"/>
<line x1="134.40" y1="391.40" x2="134.40" y2="393.00" stroke="#333" stroke-width="1"/>
<line x1="148.45" y1="391.40" x2="148.45" y2="393.00" stroke="#333" stroke-width="1"/>
<line x1="162.50" y1="391.40" x2="162.50" y2="393.00" stroke="#333" stroke-width="1"/>
<line x1="50.10" y1="391.40" x2="50.10" y2="393.00" stroke="#333" stroke-width="1"/>
<text x="50.10" y="401.70" font-size="8.5" text-anchor="middle" fill="#111" stroke="#111" stroke-width="0.15" >2d</text>
<line x1="78.20" y1="391.40" x2="78.20" y2="393.00" stroke="#333" stroke-width="1"/>
<text x="78.20" y="401.70" font-size="8.5" text-anchor="middle" fill="#111" stroke="#111" stroke-width="0.15" >4d</text>
<line x1="106.00" y1="391.40" x2="106.00" y2="393.00" stroke="#333" stroke-width="1"/>
<text x="106.00" y="401.70" font-size="8.5" text-anchor="middle" fill="#111" stroke="#111" stroke-width="0.15" >6d</text>
<line x1="134.00" y1="391.40" x2="134.00" y2="393.00" stroke="#333" stroke-width="1"/>
<text x="134.00" y="401.70" font-size="8.5" text-anchor="middle" fill="#111" stroke="#111" stroke-width="0.15" >8d</text>
<line x1="161.90" y1="391.40" x2="161.90" y2="393.00" stroke="#333" stroke-width="1"/>
<text x="161.90" y="401.70" font-size="8.5" text-anchor="middle" fill="#111" stroke="#111" stroke-width="0.15" >10d</text>
<text x="106.00" y="414.50" font-size="9" text-anchor="middle" fill="#111" stroke="#111" stroke-width="0.15" >Time</text>
<polyline points="50.10,352.70 78.20,307.10 106.00,304.80 134.00,304.80 161.90,331.60" fill="none" stroke="#5a5a5a" stroke-width="1.15" stroke-linejoin="miter"/>
<polyline points="50.10,346.40 78.20,309.30 106.00,310.70 134.00,330.70 161.90,361.00" fill="none" stroke="#2828ff" stroke-width="1.15" stroke-linejoin="miter"/>
<polyline points="50.10,380.30 78.20,316.40 106.00,377.70 134.00,377.70 161.90,373.00" fill="none" stroke="#ff2828" stroke-width="1.15" stroke-linejoin="miter"/>
<line x1="161.90" y1="367.00" x2="161.90" y2="377.00" stroke="#ff2828" stroke-width="0.8"/>
<line x1="160.70" y1="367.00" x2="163.10" y2="367.00" stroke="#ff2828" stroke-width="0.8"/>
<line x1="160.70" y1="377.00" x2="163.10" y2="377.00" stroke="#ff2828" stroke-width="0.8"/>
<line x1="161.90" y1="326.00" x2="161.90" y2="338.00" stroke="#5a5a5a" stroke-width="0.8"/>
<line x1="160.70" y1="326.00" x2="163.10" y2="326.00" stroke="#5a5a5a" stroke-width="0.8"/>
<line x1="160.70" y1="338.00" x2="163.10" y2="338.00" stroke="#5a5a5a" stroke-width="0.8"/>
<line x1="106.00" y1="306.00" x2="106.00" y2="314.00" stroke="#2828ff" stroke-width="0.8"/>
<line x1="104.80" y1="306.00" x2="107.20" y2="306.00" stroke="#2828ff" stroke-width="0.8"/>
<line x1="104.80" y1="314.00" x2="107.20" y2="314.00" stroke="#2828ff" stroke-width="0.8"/>
<line x1="161.90" y1="358.00" x2="161.90" y2="364.00" stroke="#2828ff" stroke-width="0.8"/>
<line x1="160.70" y1="358.00" x2="163.10" y2="358.00" stroke="#2828ff" stroke-width="0.8"/>
<line x1="160.70" y1="364.00" x2="163.10" y2="364.00" stroke="#2828ff" stroke-width="0.8"/>
<line x1="106.00" y1="375.00" x2="106.00" y2="380.00" stroke="#ff2828" stroke-width="0.8"/>
<line x1="104.80" y1="375.00" x2="107.20" y2="375.00" stroke="#ff2828" stroke-width="0.8"/>
<line x1="104.80" y1="380.00" x2="107.20" y2="380.00" stroke="#ff2828" stroke-width="0.8"/>
<line x1="134.00" y1="375.00" x2="134.00" y2="380.00" stroke="#ff2828" stroke-width="0.8"/>
<line x1="132.80" y1="375.00" x2="135.20" y2="375.00" stroke="#ff2828" stroke-width="0.8"/>
<line x1="132.80" y1="380.00" x2="135.20" y2="380.00" stroke="#ff2828" stroke-width="0.8"/>
<line x1="50.10" y1="343.00" x2="50.10" y2="350.00" stroke="#2828ff" stroke-width="0.8"/>
<line x1="48.90" y1="343.00" x2="51.30" y2="343.00" stroke="#2828ff" stroke-width="0.8"/>
<line x1="48.90" y1="350.00" x2="51.30" y2="350.00" stroke="#2828ff" stroke-width="0.8"/>
<line x1="78.20" y1="303.00" x2="78.20" y2="311.00" stroke="#5a5a5a" stroke-width="0.8"/>
<line x1="77.00" y1="303.00" x2="79.40" y2="303.00" stroke="#5a5a5a" stroke-width="0.8"/>
<line x1="77.00" y1="311.00" x2="79.40" y2="311.00" stroke="#5a5a5a" stroke-width="0.8"/>
<text x="78.00" y="301.30" font-size="7.5" text-anchor="middle" fill="#2a2a2a" stroke="#2a2a2a" stroke-width="0.15" >a</text>
<text x="78.20" y="326.40" font-size="7.5" text-anchor="middle" fill="#2a2a2a" stroke="#2a2a2a" stroke-width="0.15" >b</text>
<text x="50.00" y="343.40" font-size="7.5" text-anchor="middle" fill="#2a2a2a" stroke="#2a2a2a" stroke-width="0.15" >d</text>
<text x="50.00" y="353.00" font-size="7.5" text-anchor="middle" fill="#2a2a2a" stroke="#2a2a2a" stroke-width="0.15" >e</text>
<text x="50.00" y="357.70" font-size="7.5" text-anchor="middle" fill="#2a2a2a" stroke="#2a2a2a" stroke-width="0.15" >f</text>
<text x="50.00" y="387.80" font-size="7.5" text-anchor="middle" fill="#2a2a2a" stroke="#2a2a2a" stroke-width="0.15" >g</text>
<text x="81.50" y="307.50" font-size="7.5" text-anchor="middle" fill="#2a2a2a" stroke="#2a2a2a" stroke-width="0.15" >a</text>
<text x="106.00" y="302.30" font-size="7.5" text-anchor="middle" fill="#2a2a2a" stroke="#2a2a2a" stroke-width="0.15" >a</text>
<text x="111.50" y="309.90" font-size="7.5" text-anchor="middle" fill="#2a2a2a" stroke="#2a2a2a" stroke-width="0.15" >ab</text>
<text x="134.00" y="302.30" font-size="7.5" text-anchor="middle" fill="#2a2a2a" stroke="#2a2a2a" stroke-width="0.15" >a</text>
<text x="134.00" y="330.90" font-size="7.5" text-anchor="middle" fill="#2a2a2a" stroke="#2a2a2a" stroke-width="0.15" >c</text>
<text x="161.90" y="326.70" font-size="7.5" text-anchor="middle" fill="#2a2a2a" stroke="#2a2a2a" stroke-width="0.15" >c</text>
<text x="161.90" y="358.10" font-size="7.5" text-anchor="middle" fill="#2a2a2a" stroke="#2a2a2a" stroke-width="0.15" >e</text>
<text x="106.00" y="387.20" font-size="7.5" text-anchor="middle" fill="#2a2a2a" stroke="#2a2a2a" stroke-width="0.15" >fg</text>
<text x="134.00" y="387.20" font-size="7.5" text-anchor="middle" fill="#2a2a2a" stroke="#2a2a2a" stroke-width="0.15" >fg</text>
<text x="161.90" y="384.40" font-size="7.5" text-anchor="middle" fill="#2a2a2a" stroke="#2a2a2a" stroke-width="0.15" >fg</text>
<text transform="translate(16.30,342.00) rotate(-90)" x="0" y="3.14" font-size="9.5" text-anchor="middle" fill="#111" stroke="#111" stroke-width="0.05" textLength="76.5" lengthAdjust="spacingAndGlyphs">POD activity ( U g<tspan dy="-3.5" font-size="6">-1</tspan><tspan dy="3.5"> )</tspan></text>
<text x="180.30" y="277.80" font-size="12.8" text-anchor="start" fill="#111" stroke="#111" stroke-width="0.15" >H</text>
<line x1="221.40" y1="294.50" x2="221.40" y2="390.90" stroke="#333" stroke-width="1"/>
<line x1="220.90" y1="390.40" x2="361.20" y2="390.40" stroke="#333" stroke-width="1"/>
<line x1="219.80" y1="295.10" x2="221.40" y2="295.10" stroke="#333" stroke-width="1"/>
<text x="217.90" y="298.10" font-size="8.5" text-anchor="end" fill="#111" stroke="#111" stroke-width="0.15" >25</text>
<line x1="219.80" y1="312.38" x2="221.40" y2="312.38" stroke="#333" stroke-width="1"/>
<text x="217.90" y="315.38" font-size="8.5" text-anchor="end" fill="#111" stroke="#111" stroke-width="0.15" >20</text>
<line x1="219.80" y1="329.66" x2="221.40" y2="329.66" stroke="#333" stroke-width="1"/>
<text x="217.90" y="332.66" font-size="8.5" text-anchor="end" fill="#111" stroke="#111" stroke-width="0.15" >15</text>
<line x1="219.80" y1="346.94" x2="221.40" y2="346.94" stroke="#333" stroke-width="1"/>
<text x="217.90" y="349.94" font-size="8.5" text-anchor="end" fill="#111" stroke="#111" stroke-width="0.15" >10</text>
<line x1="219.80" y1="364.22" x2="221.40" y2="364.22" stroke="#333" stroke-width="1"/>
<text x="217.90" y="367.22" font-size="8.5" text-anchor="end" fill="#111" stroke="#111" stroke-width="0.15" >5</text>
<line x1="219.80" y1="381.50" x2="221.40" y2="381.50" stroke="#333" stroke-width="1"/>
<text x="217.90" y="384.50" font-size="8.5" text-anchor="end" fill="#111" stroke="#111" stroke-width="0.15" >0</text>
<line x1="235.20" y1="390.40" x2="235.20" y2="392.00" stroke="#333" stroke-width="1"/>
<line x1="249.00" y1="390.40" x2="249.00" y2="392.00" stroke="#333" stroke-width="1"/>
<line x1="262.80" y1="390.40" x2="262.80" y2="392.00" stroke="#333" stroke-width="1"/>
<line x1="276.60" y1="390.40" x2="276.60" y2="392.00" stroke="#333" stroke-width="1"/>
<line x1="290.40" y1="390.40" x2="290.40" y2="392.00" stroke="#333" stroke-width="1"/>
<line x1="304.20" y1="390.40" x2="304.20" y2="392.00" stroke="#333" stroke-width="1"/>
<line x1="318.00" y1="390.40" x2="318.00" y2="392.00" stroke="#333" stroke-width="1"/>
<line x1="331.80" y1="390.40" x2="331.80" y2="392.00" stroke="#333" stroke-width="1"/>
<line x1="345.60" y1="390.40" x2="345.60" y2="392.00" stroke="#333" stroke-width="1"/>
<line x1="359.40" y1="390.40" x2="359.40" y2="392.00" stroke="#333" stroke-width="1"/>
<line x1="235.20" y1="390.40" x2="235.20" y2="392.00" stroke="#333" stroke-width="1"/>
<text x="235.20" y="400.70" font-size="8.5" text-anchor="middle" fill="#111" stroke="#111" stroke-width="0.15" >2d</text>
<line x1="262.80" y1="390.40" x2="262.80" y2="392.00" stroke="#333" stroke-width="1"/>
<text x="262.80" y="400.70" font-size="8.5" text-anchor="middle" fill="#111" stroke="#111" stroke-width="0.15" >4d</text>
<line x1="291.00" y1="390.40" x2="291.00" y2="392.00" stroke="#333" stroke-width="1"/>
<text x="291.00" y="400.70" font-size="8.5" text-anchor="middle" fill="#111" stroke="#111" stroke-width="0.15" >6d</text>
<line x1="318.80" y1="390.40" x2="318.80" y2="392.00" stroke="#333" stroke-width="1"/>
<text x="318.80" y="400.70" font-size="8.5" text-anchor="middle" fill="#111" stroke="#111" stroke-width="0.15" >8d</text>
<line x1="346.50" y1="390.40" x2="346.50" y2="392.00" stroke="#333" stroke-width="1"/>
<text x="346.50" y="400.70" font-size="8.5" text-anchor="middle" fill="#111" stroke="#111" stroke-width="0.15" >10d</text>
<text x="291.00" y="414.60" font-size="9" text-anchor="middle" fill="#111" stroke="#111" stroke-width="0.15" >Time</text>
<polyline points="235.20,361.50 262.80,313.00 291.00,347.00 318.80,375.30 346.50,375.30" fill="none" stroke="#5a5a5a" stroke-width="1.15" stroke-linejoin="miter"/>
<polyline points="235.20,364.70 262.80,326.00 291.00,370.70 318.80,376.50 346.50,376.50" fill="none" stroke="#2828ff" stroke-width="1.15" stroke-linejoin="miter"/>
<polyline points="235.20,366.00 262.80,329.30 291.00,373.70 318.80,380.00 346.50,379.30" fill="none" stroke="#ff2828" stroke-width="1.15" stroke-linejoin="miter"/>
<line x1="262.80" y1="309.00" x2="262.80" y2="315.00" stroke="#5a5a5a" stroke-width="0.8"/>
<line x1="261.60" y1="309.00" x2="264.00" y2="309.00" stroke="#5a5a5a" stroke-width="0.8"/>
<line x1="261.60" y1="315.00" x2="264.00" y2="315.00" stroke="#5a5a5a" stroke-width="0.8"/>
<text x="262.80" y="307.60" font-size="7.5" text-anchor="middle" fill="#2a2a2a" stroke="#2a2a2a" stroke-width="0.15" >a</text>
<text x="262.80" y="324.40" font-size="7.5" text-anchor="middle" fill="#2a2a2a" stroke="#2a2a2a" stroke-width="0.15" >b</text>
<text x="262.80" y="339.70" font-size="7.5" text-anchor="middle" fill="#2a2a2a" stroke="#2a2a2a" stroke-width="0.15" >b</text>
<text x="235.50" y="361.50" font-size="7.5" text-anchor="middle" fill="#2a2a2a" stroke="#2a2a2a" stroke-width="0.15" >d</text>
<text x="231.00" y="367.70" font-size="7.5" text-anchor="middle" fill="#2a2a2a" stroke="#2a2a2a" stroke-width="0.15" >d</text>
<text x="235.00" y="372.80" font-size="7.5" text-anchor="middle" fill="#2a2a2a" stroke="#2a2a2a" stroke-width="0.15" >d</text>
<text x="291.00" y="348.80" font-size="7.5" text-anchor="middle" fill="#2a2a2a" stroke="#2a2a2a" stroke-width="0.15" >c</text>
<text x="291.00" y="370.20" font-size="7.5" text-anchor="middle" fill="#2a2a2a" stroke="#2a2a2a" stroke-width="0.15" >e</text>
<text x="289.00" y="380.80" font-size="7.5" text-anchor="middle" fill="#2a2a2a" stroke="#2a2a2a" stroke-width="0.15" >ef</text>
<text x="309.50" y="374.50" font-size="7.5" text-anchor="middle" fill="#2a2a2a" stroke="#2a2a2a" stroke-width="0.15" >fgh</text>
<text x="319.00" y="374.00" font-size="7.5" text-anchor="middle" fill="#2a2a2a" stroke="#2a2a2a" stroke-width="0.15" >fg</text>
<text x="319.00" y="387.00" font-size="7.5" text-anchor="middle" fill="#2a2a2a" stroke="#2a2a2a" stroke-width="0.15" >h</text>
<text x="346.50" y="374.00" font-size="7.5" text-anchor="middle" fill="#2a2a2a" stroke="#2a2a2a" stroke-width="0.15" >fg</text>
<text x="354.00" y="378.50" font-size="7.5" text-anchor="middle" fill="#2a2a2a" stroke="#2a2a2a" stroke-width="0.15" >fgh</text>
<text x="348.00" y="384.60" font-size="7.5" text-anchor="middle" fill="#2a2a2a" stroke="#2a2a2a" stroke-width="0.15" >gh</text>
<text transform="translate(201.00,342.00) rotate(-90)" x="0" y="3.14" font-size="9.5" text-anchor="middle" fill="#111" stroke="#111" stroke-width="0.05" textLength="76.5" lengthAdjust="spacingAndGlyphs">CAT activity ( U g<tspan dy="-3.5" font-size="6">-1</tspan><tspan dy="3.5"> )</tspan></text>
<text x="369.80" y="277.80" font-size="12.8" text-anchor="start" fill="#111" stroke="#111" stroke-width="0.15" >I</text>
<line x1="411.40" y1="294.50" x2="411.40" y2="391.90" stroke="#333" stroke-width="1"/>
<line x1="410.90" y1="391.40" x2="545.80" y2="391.40" stroke="#333" stroke-width="1"/>
<line x1="409.80" y1="295.10" x2="411.40" y2="295.10" stroke="#333" stroke-width="1"/>
<text x="407.90" y="298.10" font-size="8.5" text-anchor="end" fill="#111" stroke="#111" stroke-width="0.15" >0.40</text>
<line x1="409.80" y1="314.40" x2="411.40" y2="314.40" stroke="#333" stroke-width="1"/>
<text x="407.90" y="317.40" font-size="8.5" text-anchor="end" fill="#111" stroke="#111" stroke-width="0.15" >0.35</text>
<line x1="409.80" y1="333.70" x2="411.40" y2="333.70" stroke="#333" stroke-width="1"/>
<text x="407.90" y="336.70" font-size="8.5" text-anchor="end" fill="#111" stroke="#111" stroke-width="0.15" >0.30</text>
<line x1="409.80" y1="353.00" x2="411.40" y2="353.00" stroke="#333" stroke-width="1"/>
<text x="407.90" y="356.00" font-size="8.5" text-anchor="end" fill="#111" stroke="#111" stroke-width="0.15" >0.25</text>
<line x1="409.80" y1="372.30" x2="411.40" y2="372.30" stroke="#333" stroke-width="1"/>
<text x="407.90" y="375.30" font-size="8.5" text-anchor="end" fill="#111" stroke="#111" stroke-width="0.15" >0.20</text>
<line x1="409.80" y1="391.60" x2="411.40" y2="391.60" stroke="#333" stroke-width="1"/>
<text x="407.90" y="394.60" font-size="8.5" text-anchor="end" fill="#111" stroke="#111" stroke-width="0.15" >0.15</text>
<line x1="424.70" y1="391.40" x2="424.70" y2="393.00" stroke="#333" stroke-width="1"/>
<line x1="438.25" y1="391.40" x2="438.25" y2="393.00" stroke="#333" stroke-width="1"/>
<line x1="451.80" y1="391.40" x2="451.80" y2="393.00" stroke="#333" stroke-width="1"/>
<line x1="465.35" y1="391.40" x2="465.35" y2="393.00" stroke="#333" stroke-width="1"/>
<line x1="478.90" y1="391.40" x2="478.90" y2="393.00" stroke="#333" stroke-width="1"/>
<line x1="492.45" y1="391.40" x2="492.45" y2="393.00" stroke="#333" stroke-width="1"/>
<line x1="506.00" y1="391.40" x2="506.00" y2="393.00" stroke="#333" stroke-width="1"/>
<line x1="519.55" y1="391.40" x2="519.55" y2="393.00" stroke="#333" stroke-width="1"/>
<line x1="533.10" y1="391.40" x2="533.10" y2="393.00" stroke="#333" stroke-width="1"/>
<line x1="424.70" y1="391.40" x2="424.70" y2="393.00" stroke="#333" stroke-width="1"/>
<text x="424.70" y="401.50" font-size="8.5" text-anchor="middle" fill="#111" stroke="#111" stroke-width="0.15" >2d</text>
<line x1="451.80" y1="391.40" x2="451.80" y2="393.00" stroke="#333" stroke-width="1"/>
<text x="451.80" y="401.50" font-size="8.5" text-anchor="middle" fill="#111" stroke="#111" stroke-width="0.15" >4d</text>
<line x1="478.40" y1="391.40" x2="478.40" y2="393.00" stroke="#333" stroke-width="1"/>
<text x="478.40" y="401.50" font-size="8.5" text-anchor="middle" fill="#111" stroke="#111" stroke-width="0.15" >6d</text>
<line x1="505.10" y1="391.40" x2="505.10" y2="393.00" stroke="#333" stroke-width="1"/>
<text x="505.10" y="401.50" font-size="8.5" text-anchor="middle" fill="#111" stroke="#111" stroke-width="0.15" >8d</text>
<line x1="531.90" y1="391.40" x2="531.90" y2="393.00" stroke="#333" stroke-width="1"/>
<text x="531.90" y="401.50" font-size="8.5" text-anchor="middle" fill="#111" stroke="#111" stroke-width="0.15" >10d</text>
<text x="478.40" y="415.00" font-size="9" text-anchor="middle" fill="#111" stroke="#111" stroke-width="0.15" >Time</text>
<polyline points="424.70,349.70 451.80,375.80 478.40,369.50 505.10,339.80 531.90,302.20" fill="none" stroke="#666666" stroke-width="1.15" stroke-linejoin="miter"/>
<polyline points="424.70,337.20 451.80,369.00 478.40,363.70 505.10,355.60 531.90,313.70" fill="none" stroke="#2828ff" stroke-width="1.15" stroke-linejoin="miter"/>
<polyline points="424.70,344.70 451.80,345.10 478.40,349.30 505.10,386.00 531.90,329.80" fill="none" stroke="#ff2828" stroke-width="1.15" stroke-linejoin="miter"/>
<line x1="478.40" y1="367.00" x2="478.40" y2="373.00" stroke="#5a5a5a" stroke-width="0.8"/>
<line x1="477.20" y1="367.00" x2="479.60" y2="367.00" stroke="#5a5a5a" stroke-width="0.8"/>
<line x1="477.20" y1="373.00" x2="479.60" y2="373.00" stroke="#5a5a5a" stroke-width="0.8"/>
<line x1="478.40" y1="360.00" x2="478.40" y2="366.50" stroke="#2828ff" stroke-width="0.8"/>
<line x1="477.20" y1="360.00" x2="479.60" y2="360.00" stroke="#2828ff" stroke-width="0.8"/>
<line x1="477.20" y1="366.50" x2="479.60" y2="366.50" stroke="#2828ff" stroke-width="0.8"/>
<line x1="505.10" y1="383.00" x2="505.10" y2="389.00" stroke="#ff2828" stroke-width="0.8"/>
<line x1="503.90" y1="383.00" x2="506.30" y2="383.00" stroke="#ff2828" stroke-width="0.8"/>
<line x1="503.90" y1="389.00" x2="506.30" y2="389.00" stroke="#ff2828" stroke-width="0.8"/>
<line x1="531.90" y1="298.00" x2="531.90" y2="306.00" stroke="#5a5a5a" stroke-width="0.8"/>
<line x1="530.70" y1="298.00" x2="533.10" y2="298.00" stroke="#5a5a5a" stroke-width="0.8"/>
<line x1="530.70" y1="306.00" x2="533.10" y2="306.00" stroke="#5a5a5a" stroke-width="0.8"/>
<line x1="424.70" y1="343.00" x2="424.70" y2="346.50" stroke="#ff2828" stroke-width="0.8"/>
<line x1="423.50" y1="343.00" x2="425.90" y2="343.00" stroke="#ff2828" stroke-width="0.8"/>
<line x1="423.50" y1="346.50" x2="425.90" y2="346.50" stroke="#ff2828" stroke-width="0.8"/>
<line x1="451.80" y1="343.50" x2="451.80" y2="347.00" stroke="#ff2828" stroke-width="0.8"/>
<line x1="450.60" y1="343.50" x2="453.00" y2="343.50" stroke="#ff2828" stroke-width="0.8"/>
<line x1="450.60" y1="347.00" x2="453.00" y2="347.00" stroke="#ff2828" stroke-width="0.8"/>
<text x="424.70" y="335.20" font-size="7.5" text-anchor="middle" fill="#2a2a2a" stroke="#2a2a2a" stroke-width="0.15" >d</text>
<text x="424.70" y="343.90" font-size="7.5" text-anchor="middle" fill="#2a2a2a" stroke="#2a2a2a" stroke-width="0.15" >g</text>
<text x="424.70" y="357.70" font-size="7.5" text-anchor="middle" fill="#2a2a2a" stroke="#2a2a2a" stroke-width="0.15" >h</text>
<text x="452.00" y="341.40" font-size="7.5" text-anchor="middle" fill="#2a2a2a" stroke="#2a2a2a" stroke-width="0.15" >f</text>
<text x="452.00" y="367.70" font-size="7.5" text-anchor="middle" fill="#2a2a2a" stroke="#2a2a2a" stroke-width="0.15" >k</text>
<text x="452.00" y="383.50" font-size="7.5" text-anchor="middle" fill="#2a2a2a" stroke="#2a2a2a" stroke-width="0.15" >m</text>
<text x="478.40" y="345.80" font-size="7.5" text-anchor="middle" fill="#2a2a2a" stroke="#2a2a2a" stroke-width="0.15" >g</text>
<text x="478.40" y="358.10" font-size="7.5" text-anchor="middle" fill="#2a2a2a" stroke="#2a2a2a" stroke-width="0.15" >j</text>
<text x="478.40" y="377.80" font-size="7.5" text-anchor="middle" fill="#2a2a2a" stroke="#2a2a2a" stroke-width="0.15" >l</text>
<text x="505.00" y="337.20" font-size="7.5" text-anchor="middle" fill="#2a2a2a" stroke="#2a2a2a" stroke-width="0.15" >e</text>
<text x="505.00" y="353.40" font-size="7.5" text-anchor="middle" fill="#2a2a2a" stroke="#2a2a2a" stroke-width="0.15" >i</text>
<text x="505.00" y="382.00" font-size="7.5" text-anchor="middle" fill="#2a2a2a" stroke="#2a2a2a" stroke-width="0.15" >n</text>
<text x="532.00" y="297.60" font-size="7.5" text-anchor="middle" fill="#2a2a2a" stroke="#2a2a2a" stroke-width="0.15" >a</text>
<text x="532.00" y="310.90" font-size="7.5" text-anchor="middle" fill="#2a2a2a" stroke="#2a2a2a" stroke-width="0.15" >b</text>
<text x="532.00" y="330.20" font-size="7.5" text-anchor="middle" fill="#2a2a2a" stroke="#2a2a2a" stroke-width="0.15" >c</text>
<text transform="translate(385.80,345.50) rotate(-90)" x="0" y="3.14" font-size="9.5" text-anchor="middle" fill="#111" stroke="#111" stroke-width="0.05" textLength="75.8" lengthAdjust="spacingAndGlyphs">O<tspan dy="2" font-size="5.5">2</tspan><tspan dx="-2.8" dy="-5.5" font-size="6">-</tspan><tspan dy="3.5"> content ( μmol g</tspan><tspan dy="-3.5" font-size="6">-1</tspan><tspan dy="3.5"> )</tspan></text>
<text x="8.30" y="435.60" font-size="12.8" text-anchor="start" fill="#111" stroke="#111" stroke-width="0.15" >J</text>
<line x1="35.50" y1="437.00" x2="35.50" y2="533.10" stroke="#333" stroke-width="1"/>
<line x1="35.00" y1="532.60" x2="177.00" y2="532.60" stroke="#333" stroke-width="1"/>
<line x1="33.90" y1="437.50" x2="35.50" y2="437.50" stroke="#333" stroke-width="1"/>
<text x="32.00" y="440.50" font-size="8.5" text-anchor="end" fill="#111" stroke="#111" stroke-width="0.15" >14</text>
<line x1="33.90" y1="451.10" x2="35.50" y2="451.10" stroke="#333" stroke-width="1"/>
<text x="32.00" y="454.10" font-size="8.5" text-anchor="end" fill="#111" stroke="#111" stroke-width="0.15" >12</text>
<line x1="33.90" y1="464.70" x2="35.50" y2="464.70" stroke="#333" stroke-width="1"/>
<text x="32.00" y="467.70" font-size="8.5" text-anchor="end" fill="#111" stroke="#111" stroke-width="0.15" >10</text>
<line x1="33.90" y1="478.30" x2="35.50" y2="478.30" stroke="#333" stroke-width="1"/>
<text x="32.00" y="481.30" font-size="8.5" text-anchor="end" fill="#111" stroke="#111" stroke-width="0.15" >8</text>
<line x1="33.90" y1="491.90" x2="35.50" y2="491.90" stroke="#333" stroke-width="1"/>
<text x="32.00" y="494.90" font-size="8.5" text-anchor="end" fill="#111" stroke="#111" stroke-width="0.15" >6</text>
<line x1="33.90" y1="505.50" x2="35.50" y2="505.50" stroke="#333" stroke-width="1"/>
<text x="32.00" y="508.50" font-size="8.5" text-anchor="end" fill="#111" stroke="#111" stroke-width="0.15" >4</text>
<line x1="33.90" y1="519.10" x2="35.50" y2="519.10" stroke="#333" stroke-width="1"/>
<text x="32.00" y="522.10" font-size="8.5" text-anchor="end" fill="#111" stroke="#111" stroke-width="0.15" >2</text>
<line x1="33.90" y1="532.70" x2="35.50" y2="532.70" stroke="#333" stroke-width="1"/>
<text x="32.00" y="535.70" font-size="8.5" text-anchor="end" fill="#111" stroke="#111" stroke-width="0.15" >0</text>
<line x1="49.30" y1="532.60" x2="49.30" y2="534.20" stroke="#333" stroke-width="1"/>
<line x1="63.65" y1="532.60" x2="63.65" y2="534.20" stroke="#333" stroke-width="1"/>
<line x1="78.00" y1="532.60" x2="78.00" y2="534.20" stroke="#333" stroke-width="1"/>
<line x1="92.35" y1="532.60" x2="92.35" y2="534.20" stroke="#333" stroke-width="1"/>
<line x1="106.70" y1="532.60" x2="106.70" y2="534.20" stroke="#333" stroke-width="1"/>
<line x1="121.05" y1="532.60" x2="121.05" y2="534.20" stroke="#333" stroke-width="1"/>
<line x1="135.40" y1="532.60" x2="135.40" y2="534.20" stroke="#333" stroke-width="1"/>
<line x1="149.75" y1="532.60" x2="149.75" y2="534.20" stroke="#333" stroke-width="1"/>
<line x1="164.10" y1="532.60" x2="164.10" y2="534.20" stroke="#333" stroke-width="1"/>
<line x1="49.30" y1="532.60" x2="49.30" y2="534.20" stroke="#333" stroke-width="1"/>
<text x="49.30" y="542.70" font-size="8.5" text-anchor="middle" fill="#111" stroke="#111" stroke-width="0.15" >2d</text>
<line x1="78.00" y1="532.60" x2="78.00" y2="534.20" stroke="#333" stroke-width="1"/>
<text x="78.00" y="542.70" font-size="8.5" text-anchor="middle" fill="#111" stroke="#111" stroke-width="0.15" >4d</text>
<line x1="106.10" y1="532.60" x2="106.10" y2="534.20" stroke="#333" stroke-width="1"/>
<text x="106.10" y="542.70" font-size="8.5" text-anchor="middle" fill="#111" stroke="#111" stroke-width="0.15" >6d</text>
<line x1="134.20" y1="532.60" x2="134.20" y2="534.20" stroke="#333" stroke-width="1"/>
<text x="134.20" y="542.70" font-size="8.5" text-anchor="middle" fill="#111" stroke="#111" stroke-width="0.15" >8d</text>
<line x1="162.60" y1="532.60" x2="162.60" y2="534.20" stroke="#333" stroke-width="1"/>
<text x="162.60" y="542.70" font-size="8.5" text-anchor="middle" fill="#111" stroke="#111" stroke-width="0.15" >10d</text>
<text x="106.10" y="556.00" font-size="9" text-anchor="middle" fill="#111" stroke="#111" stroke-width="0.15" >Time</text>
<polyline points="49.30,522.50 78.00,502.90 106.10,497.70 134.20,498.40 162.60,494.70" fill="none" stroke="#5a5a5a" stroke-width="1.15" stroke-linejoin="miter"/>
<polyline points="49.30,522.50 78.00,499.60 106.10,491.40 134.20,492.90 162.60,481.70" fill="none" stroke="#2828ff" stroke-width="1.15" stroke-linejoin="miter"/>
<polyline points="49.30,518.00 78.00,494.70 106.10,485.20 134.20,471.80 162.60,441.20" fill="none" stroke="#ff2828" stroke-width="1.15" stroke-linejoin="miter"/>
<text x="49.50" y="513.80" font-size="7.5" text-anchor="middle" fill="#2a2a2a" stroke="#2a2a2a" stroke-width="0.15" >l</text>
<text x="48.50" y="520.50" font-size="7.5" text-anchor="middle" fill="#2a2a2a" stroke="#2a2a2a" stroke-width="0.15" >m</text>
<text x="49.00" y="528.50" font-size="7.5" text-anchor="middle" fill="#2a2a2a" stroke="#2a2a2a" stroke-width="0.15" >n</text>
<text x="78.00" y="493.30" font-size="7.5" text-anchor="middle" fill="#2a2a2a" stroke="#2a2a2a" stroke-width="0.15" >g</text>
<text x="80.00" y="499.00" font-size="7.5" text-anchor="middle" fill="#2a2a2a" stroke="#2a2a2a" stroke-width="0.15" >j</text>
<text x="77.00" y="501.00" font-size="7.5" text-anchor="middle" fill="#2a2a2a" stroke="#2a2a2a" stroke-width="0.15" >i</text>
<text x="79.00" y="509.80" font-size="7.5" text-anchor="middle" fill="#2a2a2a" stroke="#2a2a2a" stroke-width="0.15" >k</text>
<text x="106.00" y="483.00" font-size="7.5" text-anchor="middle" fill="#2a2a2a" stroke="#2a2a2a" stroke-width="0.15" >d</text>
<text x="106.00" y="490.90" font-size="7.5" text-anchor="middle" fill="#2a2a2a" stroke="#2a2a2a" stroke-width="0.15" >e</text>
<text x="106.00" y="504.60" font-size="7.5" text-anchor="middle" fill="#2a2a2a" stroke="#2a2a2a" stroke-width="0.15" >h</text>
<text x="134.00" y="470.50" font-size="7.5" text-anchor="middle" fill="#2a2a2a" stroke="#2a2a2a" stroke-width="0.15" >b</text>
<text x="134.00" y="490.90" font-size="7.5" text-anchor="middle" fill="#2a2a2a" stroke="#2a2a2a" stroke-width="0.15" >f</text>
<text x="134.00" y="504.60" font-size="7.5" text-anchor="middle" fill="#2a2a2a" stroke="#2a2a2a" stroke-width="0.15" >i</text>
<text x="162.60" y="440.40" font-size="7.5" text-anchor="middle" fill="#2a2a2a" stroke="#2a2a2a" stroke-width="0.15" >a</text>
<text x="162.60" y="481.50" font-size="7.5" text-anchor="middle" fill="#2a2a2a" stroke="#2a2a2a" stroke-width="0.15" >c</text>
<text x="162.60" y="493.50" font-size="7.5" text-anchor="middle" fill="#2a2a2a" stroke="#2a2a2a" stroke-width="0.15" >j</text>
<text x="162.60" y="503.40" font-size="7.5" text-anchor="middle" fill="#2a2a2a" stroke="#2a2a2a" stroke-width="0.15" >g</text>
<text transform="translate(17.30,482.00) rotate(-90)" x="0" y="3.14" font-size="9.5" text-anchor="middle" fill="#111" stroke="#111" stroke-width="0.05" textLength="85.4" lengthAdjust="spacingAndGlyphs">H<tspan dy="2" font-size="5.5">2</tspan><tspan dy="-2">O</tspan><tspan dy="2" font-size="5.5">2</tspan><tspan dy="-2"> content ( μmol g</tspan><tspan dy="-3.5" font-size="6">-1</tspan><tspan dy="3.5">)</tspan></text>
<text x="178.70" y="435.60" font-size="12.8" text-anchor="start" fill="#111" stroke="#111" stroke-width="0.15" >K</text>
<line x1="218.50" y1="435.00" x2="218.50" y2="532.90" stroke="#333" stroke-width="1"/>
<line x1="218.00" y1="532.40" x2="359.50" y2="532.40" stroke="#333" stroke-width="1"/>
<line x1="216.90" y1="435.40" x2="218.50" y2="435.40" stroke="#333" stroke-width="1"/>
<text x="215.00" y="438.40" font-size="8.5" text-anchor="end" fill="#111" stroke="#111" stroke-width="0.15" >18</text>
<line x1="216.90" y1="446.18" x2="218.50" y2="446.18" stroke="#333" stroke-width="1"/>
<text x="215.00" y="449.18" font-size="8.5" text-anchor="end" fill="#111" stroke="#111" stroke-width="0.15" >16</text>
<line x1="216.90" y1="456.96" x2="218.50" y2="456.96" stroke="#333" stroke-width="1"/>
<text x="215.00" y="459.96" font-size="8.5" text-anchor="end" fill="#111" stroke="#111" stroke-width="0.15" >14</text>
<line x1="216.90" y1="467.73" x2="218.50" y2="467.73" stroke="#333" stroke-width="1"/>
<text x="215.00" y="470.73" font-size="8.5" text-anchor="end" fill="#111" stroke="#111" stroke-width="0.15" >12</text>
<line x1="216.90" y1="478.51" x2="218.50" y2="478.51" stroke="#333" stroke-width="1"/>
<text x="215.00" y="481.51" font-size="8.5" text-anchor="end" fill="#111" stroke="#111" stroke-width="0.15" >10</text>
<line x1="216.90" y1="489.29" x2="218.50" y2="489.29" stroke="#333" stroke-width="1"/>
<text x="215.00" y="492.29" font-size="8.5" text-anchor="end" fill="#111" stroke="#111" stroke-width="0.15" >8</text>
<line x1="216.90" y1="500.07" x2="218.50" y2="500.07" stroke="#333" stroke-width="1"/>
<text x="215.00" y="503.07" font-size="8.5" text-anchor="end" fill="#111" stroke="#111" stroke-width="0.15" >6</text>
<line x1="216.90" y1="510.84" x2="218.50" y2="510.84" stroke="#333" stroke-width="1"/>
<text x="215.00" y="513.84" font-size="8.5" text-anchor="end" fill="#111" stroke="#111" stroke-width="0.15" >4</text>
<line x1="216.90" y1="521.62" x2="218.50" y2="521.62" stroke="#333" stroke-width="1"/>
<text x="215.00" y="524.62" font-size="8.5" text-anchor="end" fill="#111" stroke="#111" stroke-width="0.15" >2</text>
<line x1="216.90" y1="532.40" x2="218.50" y2="532.40" stroke="#333" stroke-width="1"/>
<text x="215.00" y="535.40" font-size="8.5" text-anchor="end" fill="#111" stroke="#111" stroke-width="0.15" >0</text>
<line x1="233.00" y1="532.40" x2="233.00" y2="534.00" stroke="#333" stroke-width="1"/>
<line x1="247.00" y1="532.40" x2="247.00" y2="534.00" stroke="#333" stroke-width="1"/>
<line x1="261.00" y1="532.40" x2="261.00" y2="534.00" stroke="#333" stroke-width="1"/>
<line x1="275.00" y1="532.40" x2="275.00" y2="534.00" stroke="#333" stroke-width="1"/>
<line x1="289.00" y1="532.40" x2="289.00" y2="534.00" stroke="#333" stroke-width="1"/>
<line x1="303.00" y1="532.40" x2="303.00" y2="534.00" stroke="#333" stroke-width="1"/>
<line x1="317.00" y1="532.40" x2="317.00" y2="534.00" stroke="#333" stroke-width="1"/>
<line x1="331.00" y1="532.40" x2="331.00" y2="534.00" stroke="#333" stroke-width="1"/>
<line x1="345.00" y1="532.40" x2="345.00" y2="534.00" stroke="#333" stroke-width="1"/>
<line x1="233.00" y1="532.40" x2="233.00" y2="534.00" stroke="#333" stroke-width="1"/>
<text x="233.00" y="542.70" font-size="8.5" text-anchor="middle" fill="#111" stroke="#111" stroke-width="0.15" >2d</text>
<line x1="261.00" y1="532.40" x2="261.00" y2="534.00" stroke="#333" stroke-width="1"/>
<text x="261.00" y="542.70" font-size="8.5" text-anchor="middle" fill="#111" stroke="#111" stroke-width="0.15" >4d</text>
<line x1="289.30" y1="532.40" x2="289.30" y2="534.00" stroke="#333" stroke-width="1"/>
<text x="289.30" y="542.70" font-size="8.5" text-anchor="middle" fill="#111" stroke="#111" stroke-width="0.15" >6d</text>
<line x1="317.70" y1="532.40" x2="317.70" y2="534.00" stroke="#333" stroke-width="1"/>
<text x="317.70" y="542.70" font-size="8.5" text-anchor="middle" fill="#111" stroke="#111" stroke-width="0.15" >8d</text>
<line x1="346.60" y1="532.40" x2="346.60" y2="534.00" stroke="#333" stroke-width="1"/>
<text x="346.60" y="542.70" font-size="8.5" text-anchor="middle" fill="#111" stroke="#111" stroke-width="0.15" >10d</text>
<text x="289.30" y="556.00" font-size="9" text-anchor="middle" fill="#111" stroke="#111" stroke-width="0.15" >Time</text>
<polyline points="233.00,514.50 261.00,518.80 289.30,512.10 317.70,510.80 346.60,502.90" fill="none" stroke="#5a5a5a" stroke-width="1.15" stroke-linejoin="miter"/>
<polyline points="233.00,512.50 261.00,515.80 289.30,509.10 317.70,509.10 346.60,492.70" fill="none" stroke="#2828ff" stroke-width="1.15" stroke-linejoin="miter"/>
<polyline points="233.00,512.00 261.00,513.30 289.30,473.50 317.70,459.80 346.60,443.60" fill="none" stroke="#ff2828" stroke-width="1.15" stroke-linejoin="miter"/>
<text x="233.00" y="509.00" font-size="7.5" text-anchor="middle" fill="#2a2a2a" stroke="#2a2a2a" stroke-width="0.15" >h</text>
<text x="229.50" y="515.80" font-size="7.5" text-anchor="middle" fill="#2a2a2a" stroke="#2a2a2a" stroke-width="0.15" >h</text>
<text x="233.00" y="522.00" font-size="7.5" text-anchor="middle" fill="#2a2a2a" stroke="#2a2a2a" stroke-width="0.15" >j</text>
<text x="261.00" y="510.80" font-size="7.5" text-anchor="middle" fill="#2a2a2a" stroke="#2a2a2a" stroke-width="0.15" >i</text>
<text x="265.00" y="515.80" font-size="7.5" text-anchor="middle" fill="#2a2a2a" stroke="#2a2a2a" stroke-width="0.15" >k</text>
<text x="261.00" y="525.00" font-size="7.5" text-anchor="middle" fill="#2a2a2a" stroke="#2a2a2a" stroke-width="0.15" >l</text>
<text x="289.30" y="472.30" font-size="7.5" text-anchor="middle" fill="#2a2a2a" stroke="#2a2a2a" stroke-width="0.15" >c</text>
<text x="289.30" y="508.40" font-size="7.5" text-anchor="middle" fill="#2a2a2a" stroke="#2a2a2a" stroke-width="0.15" >f</text>
<text x="289.30" y="520.30" font-size="7.5" text-anchor="middle" fill="#2a2a2a" stroke="#2a2a2a" stroke-width="0.15" >h</text>
<text x="317.70" y="458.60" font-size="7.5" text-anchor="middle" fill="#2a2a2a" stroke="#2a2a2a" stroke-width="0.15" >b</text>
<text x="317.70" y="508.40" font-size="7.5" text-anchor="middle" fill="#2a2a2a" stroke="#2a2a2a" stroke-width="0.15" >f</text>
<text x="317.70" y="518.30" font-size="7.5" text-anchor="middle" fill="#2a2a2a" stroke="#2a2a2a" stroke-width="0.15" >g</text>
<text x="346.60" y="443.70" font-size="7.5" text-anchor="middle" fill="#2a2a2a" stroke="#2a2a2a" stroke-width="0.15" >a</text>
<text x="346.60" y="491.70" font-size="7.5" text-anchor="middle" fill="#2a2a2a" stroke="#2a2a2a" stroke-width="0.15" >d</text>
<text x="346.60" y="504.10" font-size="7.5" text-anchor="middle" fill="#2a2a2a" stroke="#2a2a2a" stroke-width="0.15" >i</text>
<text x="346.60" y="509.10" font-size="7.5" text-anchor="middle" fill="#2a2a2a" stroke="#2a2a2a" stroke-width="0.15" >e</text>
<text transform="translate(202.30,486.60) rotate(-90)" x="0" y="3.14" font-size="9.5" text-anchor="middle" fill="#111" stroke="#111" stroke-width="0.05" textLength="93.2" lengthAdjust="spacingAndGlyphs">MDA content （ nmol g<tspan dy="-3.5" font-size="6">-1</tspan><tspan dy="3.5">)</tspan></text>
<line x1="395.30" y1="454.10" x2="409.50" y2="454.10" stroke="#aaaaaa" stroke-width="1.0"/>
<text x="411.30" y="456.10" font-size="6.5" text-anchor="start" fill="#000" stroke="#000" stroke-width="0.15" >CK</text>
<line x1="395.30" y1="470.30" x2="409.50" y2="470.30" stroke="#6a6aff" stroke-width="1.0"/>
<text x="411.30" y="472.30" font-size="6.5" text-anchor="start" fill="#000" stroke="#000" stroke-width="0.15" >CA10</text>
<line x1="395.30" y1="486.30" x2="409.50" y2="486.30" stroke="#ff6a6a" stroke-width="1.0"/>
<text x="411.30" y="488.30" font-size="6.5" text-anchor="start" fill="#000" stroke="#000" stroke-width="0.15" >CA50</text>
</svg></body></html>
